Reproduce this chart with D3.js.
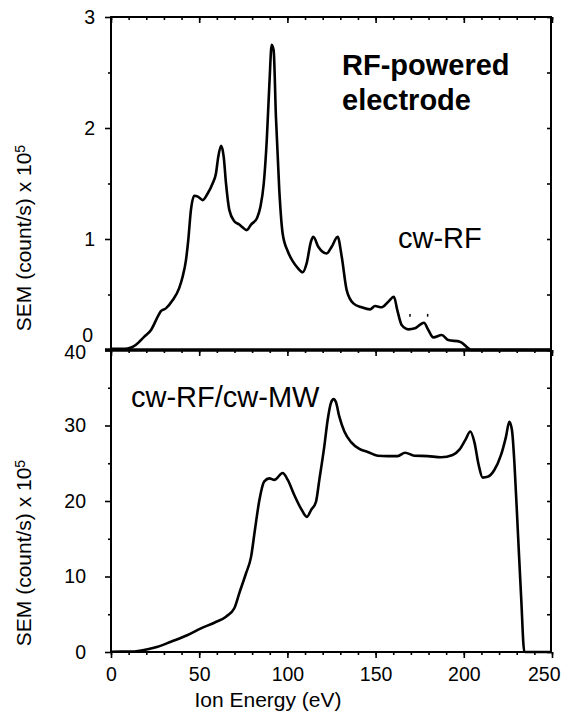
<!DOCTYPE html>
<html>
<head>
<meta charset="utf-8">
<script src="https://cdn.jsdelivr.net/npm/d3@7"></script>
<style>
  body { margin: 0; background: #fff; }
  svg { display: block; font-family: "Liberation Sans", Arial, sans-serif; }
  .axis path, .axis line { stroke: #000; }
  .axis text { fill: #000; }
  .line { fill: none; stroke: #000; stroke-width: 2.6; stroke-linejoin: round; }
</style>
</head>
<body>
<div id="chart"></div>
<script>
// Ion energy (eV) and counts for the cw-RF spectrum (x 10^5 count/s)
var energyRF = [0, 8, 11, 14, 18.9, 22.7, 26.5, 28.3, 31.1, 35, 38.7, 40.6, 42.5, 43.8, 45.3, 47.2, 49.5, 52,
  54.8, 57.6, 59.5, 60.8, 62.4, 63.9, 65.2, 67.1, 69.9, 72.7, 74.6, 76.9, 79.4, 82.8, 84.7, 86.6, 88.3, 89.8,
  91.1, 92.2, 93.5, 95.4, 97.3, 100.2, 103, 105.8, 108.7, 110.9, 113.4, 114.7, 117.5, 122.3, 125.1, 128.5,
  130.8, 133.6, 137.4, 142.1, 146.8, 149.7, 153.5, 157.2, 160.4, 162.3, 164.8, 168.6, 172.3, 177.4, 179.9,
  182.7, 187.5, 191.2, 197.8, 202.6, 204, 250];
var countsRF = [0.01, 0.01, 0.02, 0.045, 0.12, 0.18, 0.30, 0.35, 0.375, 0.45, 0.56, 0.66, 0.81, 0.99, 1.26, 1.39,
  1.38, 1.35, 1.41, 1.50, 1.59, 1.74, 1.84, 1.74, 1.50, 1.26, 1.16, 1.13, 1.105, 1.08, 1.13, 1.19, 1.29, 1.50,
  1.89, 2.40, 2.75, 2.70, 2.10, 1.44, 1.05, 0.89, 0.80, 0.74, 0.70, 0.78, 0.98, 1.02, 0.93, 0.87, 0.93, 1.02,
  0.84, 0.54, 0.42, 0.385, 0.366, 0.396, 0.385, 0.435, 0.48, 0.36, 0.225, 0.186, 0.195, 0.246, 0.18, 0.114,
  0.135, 0.09, 0.075, 0.015, 0, 0];
// two small stray marks above the cw-RF trace
var strayEnergy = [169.5, 179.5];
var strayCounts = [[0.30, 0.325], [0.30, 0.325]];

// cw-RF/cw-MW spectrum
var energyMW = [0, 11.3, 20.8, 26.5, 34, 43.5, 51, 58.6, 65.2, 69.9, 72.7, 76.5, 79.4, 81.6, 84.1, 86.9, 89.8,
  92.6, 97.3, 100.2, 103.9, 107.7, 111.1, 113.4, 116.2, 118.1, 120.9, 122.8, 124.7, 126.2, 127.5, 129.4, 132.3,
  136.1, 140.8, 145.5, 151.2, 156.9, 162.5, 166.7, 172, 179.5, 187.1, 193.7, 197.5, 200.9, 203.7, 206, 208.4,
  210.7, 213.5, 217.3, 221.1, 223.9, 225.8, 227.3, 228.7, 230.6, 232.5, 234.3, 236, 250];
var countsMW = [0.04, 0.05, 0.36, 0.70, 1.36, 2.25, 3.13, 3.88, 4.68, 5.79, 7.77, 10.4, 12.6, 16.2, 20.1, 22.6,
  23.0, 22.8, 23.7, 22.8, 20.8, 19.0, 17.9, 18.8, 19.9, 22.8, 27.2, 30.7, 33.0, 33.5, 33.1, 31.2, 29.2, 27.8,
  26.9, 26.5, 26.0, 25.95, 25.95, 26.4, 26.0, 25.95, 25.8, 26.1, 26.8, 28.1, 29.2, 27.8, 24.8, 23.1, 23.2,
  24.1, 26.1, 28.5, 30.5, 29.4, 25.0, 16.2, 7.3, 0.04, 0, 0];

// axis ticks
var xMajor = [0, 50, 100, 150, 200, 250];
var xMinor = d3.range(0, 251, 10);
var topMajor = [0, 1, 2, 3];
var topMinor = [0.5, 1.5, 2.5];
var botMajor = [0, 10, 20, 30, 40];
var botMinor = [5, 15, 25, 35];

var W = 561, H = 719;
var left = 111, right = 552, topY = 17, midY = 350, bottomY = 652;

var svg = d3.select("#chart").append("svg").attr("width", W).attr("height", H);

var x = d3.scaleLinear().domain([0, 250]).range([left, right]);
var yTop = d3.scaleLinear().domain([0, 3]).range([midY, topY]);
var yBot = d3.scaleLinear().domain([0, 40]).range([bottomY, midY]);

function zip(a, b) {
  return a.map(function(v, i) { return { e: v, c: b[i] }; });
}

function drawAxis(axis, tx, ty, width) {
  var g = svg.append("g").attr("class", "axis")
    .attr("transform", "translate(" + tx + "," + ty + ")")
    .call(axis);
  g.select(".domain").remove();
  g.selectAll("line").attr("stroke-width", width || 1.6);
  g.selectAll("text").style("font-size", "19.5px");
  return g;
}

// ---- top panel axes
drawAxis(d3.axisLeft(yTop).tickValues(topMajor).tickSize(6).tickPadding(10).tickFormat(d3.format("d")), left, 0)
  .selectAll("text").filter(function(d) { return d === 0; })
  .attr("dy", "-0.45em").attr("x", -18);
drawAxis(d3.axisLeft(yTop).tickValues(topMinor).tickSize(3).tickFormat(""), left, 0);
drawAxis(d3.axisRight(yTop).tickValues(topMajor.concat(topMinor)).tickSize(-4).tickFormat(""), right - 1, 0);
drawAxis(d3.axisTop(x).tickValues(xMajor).tickSize(-6).tickFormat(""), 0, topY);
drawAxis(d3.axisTop(x).tickValues(xMinor).tickSize(-3).tickFormat(""), 0, topY);
drawAxis(d3.axisBottom(x).tickValues(xMajor).tickSize(6).tickFormat(""), 0, midY);
drawAxis(d3.axisBottom(x).tickValues(xMinor).tickSize(3).tickFormat(""), 0, midY);

// ---- bottom panel axes
drawAxis(d3.axisLeft(yBot).tickValues(botMajor).tickSize(6).tickPadding(19).tickFormat(d3.format("d")), left, 0)
  .selectAll("text").filter(function(d) { return d === 40; })
  .attr("dy", "0.45em");
drawAxis(d3.axisLeft(yBot).tickValues(botMinor).tickSize(3).tickFormat(""), left, 0);
drawAxis(d3.axisRight(yBot).tickValues(botMajor.concat(botMinor)).tickSize(-4).tickFormat(""), right - 1, 0);
drawAxis(d3.axisBottom(x).tickValues(xMajor).tickSize(6).tickPadding(9).tickFormat(d3.format("d")), 0, bottomY)
  .selectAll("text").filter(function(d) { return d === 250; })
  .attr("text-anchor", "end").attr("x", 8);
drawAxis(d3.axisBottom(x).tickValues(xMinor).tickSize(3).tickFormat(""), 0, bottomY);

// frames
var frame = svg.append("g").attr("fill", "none").attr("stroke", "#000");
frame.append("rect").attr("x", left).attr("y", topY)
  .attr("width", right - 1 - left).attr("height", bottomY - topY).attr("stroke-width", 2);
frame.append("line").attr("x1", left - 6).attr("x2", right - 1)
  .attr("y1", midY).attr("y2", midY).attr("stroke-width", 3.5);

// ---- curves
var line = d3.line()
  .curve(d3.curveMonotoneX)
  .x(function(d) { return x(d.e); });

svg.append("path")
  .datum(zip(energyRF, countsRF))
  .attr("class", "line")
  .attr("d", line.y(function(d) { return yTop(d.c); }));

svg.append("g").selectAll("line")
  .data(zip(strayEnergy, strayCounts))
  .enter().append("line")
  .attr("x1", function(d) { return x(d.e); })
  .attr("x2", function(d) { return x(d.e); })
  .attr("y1", function(d) { return yTop(d.c[0]); })
  .attr("y2", function(d) { return yTop(d.c[1]); })
  .attr("stroke", "#000").attr("stroke-width", 1.5);

svg.append("path")
  .datum(zip(energyMW, countsMW))
  .attr("class", "line")
  .attr("d", line.y(function(d) { return yBot(d.c); }));

// ---- labels
function yTitle(cy) {
  var t = svg.append("text")
    .attr("transform", "translate(31," + cy + ") rotate(-90)")
    .attr("text-anchor", "middle")
    .style("font-size", "21px");
  t.append("tspan").text("SEM (count/s) x 10");
  t.append("tspan").attr("dy", "-0.45em").style("font-size", "14px").text("5");
}
yTitle(238);
yTitle(553);

svg.append("text")
  .attr("x", 268).attr("y", 707)
  .attr("text-anchor", "middle")
  .style("font-size", "21px")
  .text("Ion Energy (eV)");

var title = svg.append("text")
  .attr("x", 342).attr("y", 75)
  .style("font-size", "29px").style("font-weight", "bold");
title.append("tspan").attr("x", 342).text("RF-powered");
title.append("tspan").attr("x", 342).attr("y", 110).text("electrode");

svg.append("text").attr("x", 398).attr("y", 248)
  .style("font-size", "29px").text("cw-RF");

svg.append("text").attr("x", 131).attr("y", 407)
  .style("font-size", "29px").text("cw-RF/cw-MW");
</script>
</body>
</html>
